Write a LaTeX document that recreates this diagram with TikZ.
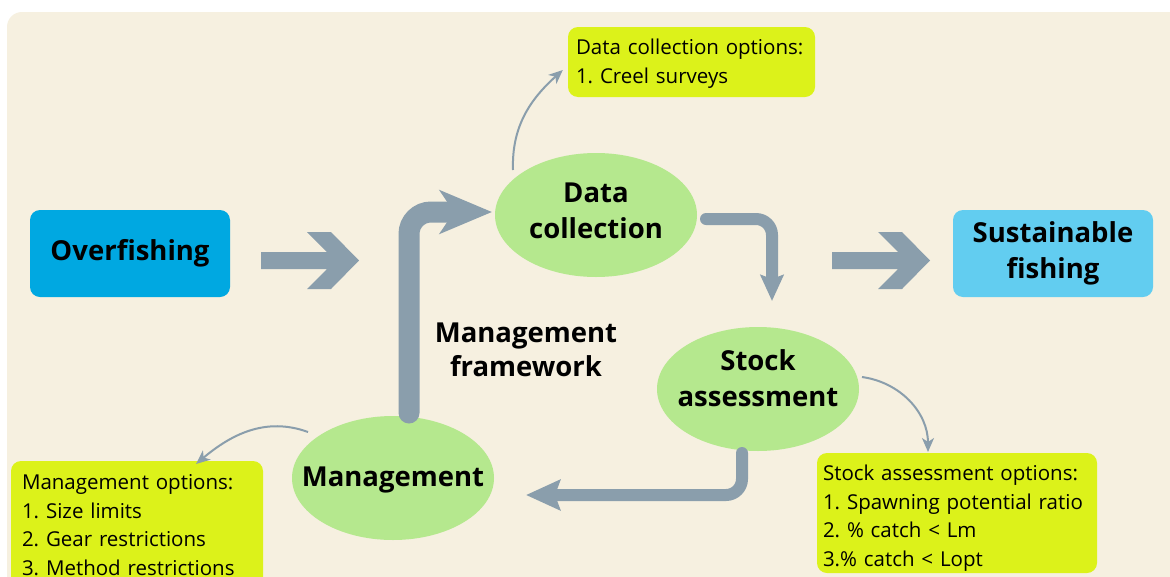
\documentclass[tikz,border=0pt]{standalone}
\usepackage{fontspec}
\setmainfont{Open Sans}
\usetikzlibrary{arrows.meta,shapes.geometric}
\frenchspacing

\definecolor{panel}{RGB}{246,240,224}
\definecolor{deepblue}{RGB}{0,168,225}
\definecolor{lightblue}{RGB}{98,205,240}
\definecolor{leaf}{RGB}{181,232,142}
\definecolor{lime}{RGB}{220,242,26}
\definecolor{slate}{RGB}{138,158,172}

\begin{document}
\begin{tikzpicture}[x=1pt,y=1pt,
  bigtext/.style={font=\fontsize{27.5}{36}\selectfont\bfseries, text=black},
  statebox/.style={rectangle, rounded corners=10pt, minimum width=200pt,
    minimum height=87pt, inner sep=0pt, align=center, bigtext},
  stage/.style={ellipse, fill=leaf, minimum width=202pt, minimum height=124pt,
    inner sep=0pt},
  stagetext/.style={bigtext, align=center, inner sep=0pt},
  optbox/.style={rectangle, rounded corners=10pt, fill=lime, inner xsep=8pt,
    inner ysep=0pt, align=left, font=\fontsize{20.5}{28.5}\selectfont},
  chevron/.style={fill=slate},
  flow/.style={draw=slate, line cap=round},
  thin/.style={draw=slate, line width=2pt,
    -{Stealth[length=14pt, width=12pt, inset=4pt]}}
]
% page and panel
\fill[white] (0,0) rectangle (1170,-576);
\useasboundingbox (0,0) rectangle (1170,-576);
\fill[panel, rounded corners=15pt] (7,-12) rectangle (1200,-620);

% start and goal
\node[statebox, fill=deepblue] (over) at (130,-253.5) {Overfishing};
\node[statebox, fill=lightblue] (sust) at (1053,-253.5) {Sustainable\\fishing};

% the three stages of the cycle
\node[stage] (dc) at (596,-215) {};
\node[stagetext] (dclabel) at ([yshift=4pt]dc.center) {Data\\collection};
\node[stage] (sa) at (758,-389) {};
\node[stagetext] (salabel) at ([yshift=11pt]sa.center) {Stock\\assessment};
\node[stage] (mg) at (393,-478) {};
\node[stagetext] (mglabel) at ([yshift=-2pt]mg.center) {Management};

\node[bigtext, align=center, font=\fontsize{27.5}{34}\selectfont\bfseries]
  (frame) at (526,-350) {Management\\framework};

% option boxes
\node[optbox, minimum width=247pt, minimum height=70pt, text width=231pt]
  (dcopt) at (691.5,-62) {\rule{0pt}{19pt}Data collection options:\\1. Creel surveys};
\node[optbox, minimum width=250pt, minimum height=128pt, text width=230pt,
  inner xsep=11pt] (mgopt) at (137,-525)
  {Management options:\\1. Size limits\\2. Gear restrictions\\3. Method restrictions};
\node[optbox, minimum width=280pt, minimum height=120pt, text width=268pt,
  inner xsep=6pt] (saopt) at (957,-513)
  {\rule{0pt}{26pt}Stock assessment options:\\1. Spawning potential ratio\\2. \% catch < Lm\\3.\% catch < Lopt};

% broad chevron arrows between the states
\coordinate (c1) at (261,-260.5);
\coordinate (c2) at (832,-260.5);
\foreach \c in {c1,c2}{
  \fill[chevron, shift={(\c)}]
    (0,8.5) -- (66,8.5) -- (46,28.5) -- (70,28.5) -- (98,0)
    -- (70,-28.5) -- (46,-28.5) -- (66,-8.5) -- (0,-8.5) -- cycle;
}

% cycle connectors
\coordinate (mgout) at (409,-413);
\coordinate (dcin) at (492,-212);
\draw[flow, line width=21pt, rounded corners=22pt,
  -{Stealth[length=52pt, width=43pt, inset=14pt]}]
  (mgout) |- (dcin);

\coordinate (dcout) at (706,-219);
\coordinate (sain) at (772,-301);
\draw[flow, line width=12pt, rounded corners=16pt,
  -{Stealth[length=26pt, width=23pt, inset=4pt]}]
  (dcout) -| (sain);

\coordinate (saout) at (742,-453);
\coordinate (mgin) at (526,-495);
\draw[flow, line width=12pt, rounded corners=16pt,
  -{Stealth[length=34pt, width=30pt, inset=5pt]}]
  (saout) |- (mgin);

% links to the option boxes
\draw[thin] (513,-170) to[out=92, in=222] ([xshift=-5pt, yshift=-8pt]dcopt.west);
\draw[thin] (862,-377) to[out=-8, in=90] (928,-452);
\draw[thin] (308,-432) to[out=160, in=40] (196,-464);
\end{tikzpicture}
\end{document}
